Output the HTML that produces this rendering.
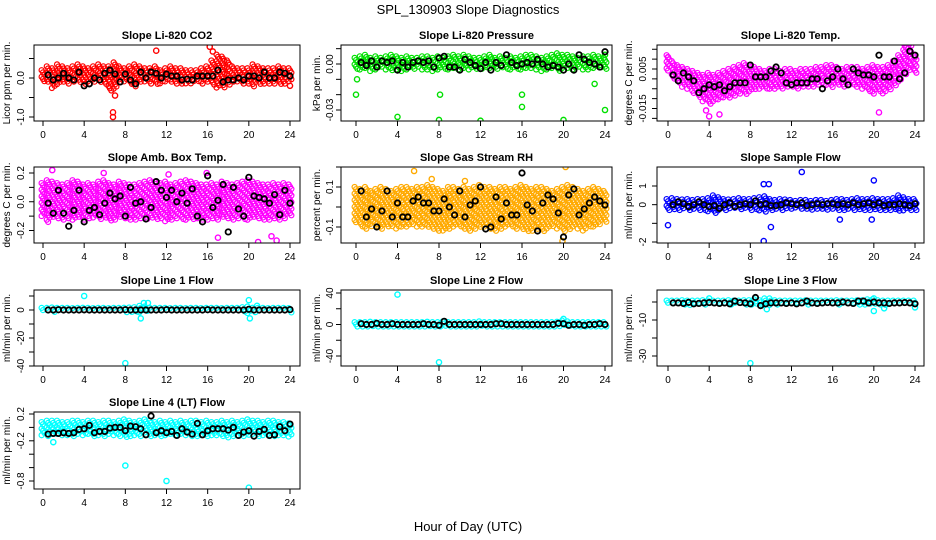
<!DOCTYPE html>
<html><head><meta charset="utf-8"><style>
body{margin:0;background:#fff}
svg{display:block;font-family:"Liberation Sans",sans-serif}
</style></head><body>
<svg id="chart" width="936" height="540" viewBox="0 0 936 540" xmlns="http://www.w3.org/2000/svg">
<rect width="936" height="540" fill="#fff"/>
<text x="468" y="14" text-anchor="middle" font-size="13">SPL_130903  Slope Diagnostics</text>
<text x="468" y="531" text-anchor="middle" font-size="13">Hour of Day (UTC)</text>
</svg>
<script>
const HOURS=[0,0.5,1,1.5,2,2.5,3,3.5,4,4.5,5,5.5,6,6.5,7,7.5,8,8.5,9,9.5,10,10.5,11,11.5,12,12.5,13,13.5,14,14.5,15,15.5,16,16.5,17,17.5,18,18.5,19,19.5,20,20.5,21,21.5,22,22.5,23,23.5,24];
const BLACK_HOURS=[0.5,1,1.5,2,2.5,3,3.5,4,4.5,5,5.5,6,6.5,7,7.5,8,8.5,9,9.5,10,10.5,11,11.5,12,12.5,13,13.5,14,14.5,15,15.5,16,16.5,17,17.5,18,18.5,19,19.5,20,20.5,21,21.5,22,22.5,23,23.5,24];
const TITLES=["Slope Li-820 CO2","Slope Li-820 Pressure","Slope Li-820 Temp.","Slope Amb. Box Temp.","Slope Gas Stream RH","Slope Sample Flow","Slope Line 1 Flow","Slope Line 2 Flow","Slope Line 3 Flow","Slope Line 4 (LT) Flow"];
const YTITLES=["Licor ppm per min.","kPa per min.","degrees C per min.","degrees C per min.","percent per min.","ml/min per min.","ml/min per min.","ml/min per min.","ml/min per min.","ml/min per min."];
const X_TICKS=[0,4,8,12,16,20,24];
const Y_TICKS=[[0.5,0,-0.5,-1],[0.01,0,-0.01,-0.02,-0.03],[0.015,0.01,0.005,0,-0.005,-0.01,-0.015,-0.02],[0.2,0.1,0,-0.1,-0.2],[0.2,0.1,0,-0.1,-0.2],[1,0,-1,-2],[10,0,-10,-20,-30,-40],[40,20,0,-20,-40],[0,-10,-20,-30],[0.2,0,-0.2,-0.4,-0.6,-0.8]];
const Y_LABELS=[["0.0","-1.0"],["0.00","-0.03"],["0.005","-0.015"],["0.2","0.0","-0.2"],["0.1","-0.1"],["1","0","-2"],["0","-20","-40"],["40","0","-40"],["-10","-30"],["0.2","-0.2","-0.8"]];
const Y_LABEL_VALUES=[[0,-1],[0,-0.03],[0.005,-0.015],[0.2,0,-0.2],[0.1,-0.1],[1,0,-2],[0,-20,-40],[40,0,-40],[-10,-30],[0.2,-0.2,-0.8]];
const HI=[
[0.2,0.3,0.25,0.35,0.3,0.25,0.3,0.35,0.3,0.25,0.3,0.35,0.3,0.3,0.4,0.3,0.25,0.3,0.35,0.3,0.25,0.25,0.3,0.2,0.25,0.3,0.25,0.25,0.2,0.2,0.2,0.25,0.3,0.45,0.6,0.55,0.45,0.3,0.25,0.25,0.25,0.35,0.3,0.25,0.25,0.25,0.3,0.25,0.25],
[0.004,0.005,0.006,0.004,0.005,0.004,0.005,0.006,0.005,0.004,0.005,0.004,0.004,0.005,0.005,0.004,0.005,0.004,0.005,0.006,0.005,0.006,0.005,0.004,0.004,0.005,0.006,0.004,0.005,0.004,0.005,0.004,0.005,0.006,0.006,0.005,0.004,0.005,0.006,0.007,0.006,0.006,0.005,0.004,0.005,0.005,0.006,0.005,0.004],
[0.012,0.009,0.007,0.006,0.005,0.004,0.003,0.002,0.003,0.002,0.003,0.004,0.005,0.006,0.007,0.008,0.007,0.006,0.005,0.004,0.005,0.005,0.004,0.005,0.005,0.004,0.005,0.005,0.005,0.006,0.006,0.007,0.007,0.006,0.005,0.006,0.006,0.006,0.005,0.006,0.007,0.006,0.006,0.007,0.009,0.012,0.018,0.019,0.012],
[0.13,0.15,0.14,0.13,0.12,0.13,0.15,0.14,0.12,0.13,0.12,0.14,0.15,0.13,0.12,0.14,0.13,0.12,0.12,0.13,0.14,0.15,0.14,0.13,0.14,0.12,0.13,0.14,0.15,0.14,0.13,0.12,0.12,0.13,0.12,0.14,0.13,0.12,0.13,0.14,0.15,0.14,0.13,0.12,0.12,0.13,0.12,0.13,0.12],
[0.1,0.09,0.1,0.08,0.09,0.1,0.09,0.08,0.09,0.1,0.1,0.09,0.1,0.1,0.11,0.1,0.09,0.08,0.1,0.1,0.09,0.1,0.09,0.1,0.11,0.1,0.1,0.09,0.1,0.1,0.09,0.1,0.11,0.1,0.09,0.1,0.1,0.09,0.08,0.09,0.1,0.11,0.1,0.09,0.08,0.09,0.1,0.09,0.08],
[0.3,0.35,0.3,0.28,0.3,0.25,0.3,0.3,0.35,0.5,0.4,0.3,0.28,0.3,0.35,0.3,0.3,0.35,0.4,0.45,0.3,0.25,0.3,0.28,0.25,0.2,0.25,0.25,0.2,0.25,0.25,0.2,0.25,0.3,0.3,0.25,0.3,0.35,0.3,0.3,0.35,0.3,0.3,0.3,0.35,0.5,0.4,0.3,0.3],
[1.5,1.5,1.8,1.5,1.5,1.5,1.4,1.5,1.6,1.5,1.4,1.5,1.5,1.4,1.5,1.5,1.6,1.8,2,3,2.5,1.6,1.5,1.5,1.5,1.4,1.5,1.5,1.4,1.5,1.5,1.4,1.5,1.5,1.5,1.4,1.5,1.5,1.5,2,2.5,1.6,1.5,1.5,1.4,1.5,1.5,1.5,1.4],
[3,3,3,3.5,3,3,3,3,3,3,3,3,3,3,3.5,3,3,4,3,3,3,3,3,3,4,3,3,3,3,3,3,3,3,3,3,3,3,3,3,3.5,5,4,3,3,3,3,3,3,3],
[0.8,0.8,0.8,1,0.8,0.8,0.8,1,0.8,0.8,0.8,0.8,1,0.8,0.8,1,1,1.5,1,2,2,1,0.8,0.8,0.8,0.8,0.8,1,0.8,0.8,0.8,0.8,0.8,1,0.8,0.8,0.8,1,1,1.5,1.5,1,0.8,0.8,0.8,0.8,0.8,0.8,0.8],
[0.08,0.1,0.1,0.1,0.08,0.08,0.1,0.1,0.08,0.1,0.1,0.08,0.1,0.1,0.08,0.1,0.12,0.1,0.08,0.1,0.12,0.1,0.08,0.1,0.08,0.1,0.08,0.1,0.08,0.1,0.1,0.08,0.1,0.08,0.08,0.1,0.08,0.1,0.08,0.1,0.12,0.1,0.1,0.08,0.1,0.1,0.08,0.08,0.06]
];
const LO=[
[-0.1,-0.15,-0.3,-0.2,-0.15,-0.15,-0.1,-0.15,-0.2,-0.15,-0.1,-0.15,-0.2,-0.35,-0.3,-0.15,-0.1,-0.2,-0.25,-0.15,-0.1,-0.15,-0.2,-0.15,-0.1,-0.15,-0.2,-0.15,-0.15,-0.15,-0.1,-0.15,-0.15,-0.2,-0.3,-0.25,-0.2,-0.15,-0.1,-0.15,-0.2,-0.25,-0.2,-0.15,-0.15,-0.15,-0.2,-0.15,-0.1],
[-0.004,-0.005,-0.004,-0.005,-0.004,-0.003,-0.004,-0.005,-0.005,-0.006,-0.004,-0.004,-0.003,-0.004,-0.004,-0.005,-0.004,-0.004,-0.005,-0.004,-0.004,-0.003,-0.004,-0.004,-0.004,-0.003,-0.004,-0.004,-0.003,-0.004,-0.005,-0.004,-0.004,-0.003,-0.004,-0.004,-0.005,-0.004,-0.004,-0.005,-0.005,-0.004,-0.004,-0.003,-0.004,-0.004,-0.004,-0.003,-0.004],
[0.004,0,-0.003,-0.005,-0.006,-0.008,-0.01,-0.012,-0.013,-0.012,-0.011,-0.01,-0.01,-0.009,-0.008,-0.008,-0.007,-0.006,-0.006,-0.005,-0.006,-0.006,-0.005,-0.005,-0.004,-0.005,-0.004,-0.004,-0.005,-0.004,-0.004,-0.004,-0.005,-0.004,-0.004,-0.004,-0.004,-0.005,-0.006,-0.007,-0.008,-0.007,-0.008,-0.006,-0.004,-0.002,0.002,0.004,0.002],
[-0.1,-0.15,-0.12,-0.13,-0.14,-0.12,-0.13,-0.12,-0.14,-0.13,-0.12,-0.13,-0.12,-0.14,-0.13,-0.12,-0.13,-0.14,-0.13,-0.12,-0.13,-0.12,-0.13,-0.12,-0.14,-0.13,-0.12,-0.13,-0.14,-0.13,-0.12,-0.14,-0.13,-0.12,-0.13,-0.12,-0.13,-0.14,-0.12,-0.13,-0.14,-0.12,-0.13,-0.14,-0.13,-0.12,-0.13,-0.12,-0.1],
[-0.08,-0.1,-0.11,-0.1,-0.1,-0.11,-0.1,-0.1,-0.11,-0.1,-0.1,-0.09,-0.1,-0.1,-0.1,-0.11,-0.12,-0.12,-0.11,-0.1,-0.1,-0.11,-0.12,-0.11,-0.1,-0.1,-0.11,-0.12,-0.11,-0.1,-0.1,-0.11,-0.11,-0.12,-0.12,-0.11,-0.12,-0.11,-0.1,-0.11,-0.12,-0.11,-0.1,-0.11,-0.12,-0.1,-0.1,-0.09,-0.08],
[-0.3,-0.35,-0.3,-0.25,-0.3,-0.25,-0.3,-0.35,-0.4,-0.45,-0.35,-0.3,-0.3,-0.25,-0.3,-0.25,-0.3,-0.35,-0.4,-0.4,-0.35,-0.3,-0.3,-0.3,-0.25,-0.2,-0.25,-0.25,-0.3,-0.25,-0.25,-0.3,-0.3,-0.35,-0.3,-0.3,-0.3,-0.3,-0.3,-0.3,-0.35,-0.4,-0.3,-0.3,-0.35,-0.4,-0.35,-0.3,-0.3],
[-1.5,-1.5,-1.5,-1.6,-1.5,-1.5,-1.4,-1.5,-1.5,-1.5,-1.5,-1.4,-1.5,-1.5,-1.5,-1.4,-1.8,-2,-2,-2.5,-1.8,-1.5,-1.5,-1.4,-1.5,-1.5,-1.5,-1.5,-1.4,-1.5,-1.5,-1.5,-1.4,-1.5,-1.5,-1.5,-1.5,-1.4,-1.5,-1.6,-2.5,-2,-1.5,-1.5,-1.5,-1.4,-1.5,-1.5,-2],
[-3,-3.5,-3,-3,-3,-3,-3,-3,-3,-3,-3,-3,-3,-3,-3,-3,-4,-4,-3,-3,-3,-3,-3,-3,-3,-3,-3,-3,-3,-3,-3,-3,-3,-3,-3,-3,-3,-3,-3,-3,-3,-3.5,-3,-3,-3,-3,-3,-3,-4],
[-1.5,-1.6,-1.5,-1.5,-1.8,-1.6,-1.5,-1.6,-1.5,-1.5,-1.6,-1.5,-1.5,-1.6,-1.5,-1.6,-2,-2,-2.5,-2.5,-2,-1.8,-1.6,-1.5,-1.6,-1.5,-1.6,-1.5,-1.5,-1.6,-1.5,-1.6,-1.5,-1.5,-1.6,-1.5,-1.5,-1.6,-1.5,-1.5,-2,-2,-1.8,-1.5,-1.6,-1.5,-1.5,-1.6,-1.6],
[-0.12,-0.13,-0.12,-0.12,-0.13,-0.12,-0.13,-0.12,-0.12,-0.12,-0.13,-0.12,-0.14,-0.12,-0.12,-0.13,-0.15,-0.15,-0.14,-0.13,-0.12,-0.13,-0.14,-0.13,-0.13,-0.12,-0.13,-0.12,-0.13,-0.14,-0.15,-0.13,-0.14,-0.13,-0.12,-0.13,-0.15,-0.13,-0.12,-0.13,-0.14,-0.12,-0.13,-0.12,-0.14,-0.13,-0.12,-0.13,-0.14]
];
const BLACK=[
[0.08,-0.05,0,0.12,0,-0.05,0.15,-0.2,-0.15,0,-0.05,0.12,0.2,0.1,-0.1,0.1,-0.05,-0.15,0.15,0,0.15,0.12,0,0.1,0.05,0.05,-0.05,-0.03,-0.05,0.05,0.05,0.05,0.05,0.2,-0.1,-0.05,-0.05,0,-0.05,0.05,0.05,0,0.15,0,0,0.15,0.12,0.05],
[0.001,-0.001,0.002,-0.002,0.002,0.001,0.002,-0.004,0.001,-0.002,0.001,0.002,0.001,0.002,-0.002,0.004,0.005,-0.002,-0.002,-0.004,0.003,0.001,-0.001,-0.003,0.001,-0.004,0.001,-0.001,0.006,0.001,-0.001,0,0.001,0,0.003,0,-0.002,-0.001,-0.002,-0.004,0,-0.004,0.006,0.003,0.001,0,-0.002,0.008],
[0.002,-0.001,0.003,0.001,-0.001,-0.007,-0.005,-0.003,-0.004,-0.003,-0.006,-0.004,-0.002,-0.002,-0.002,0.007,0.001,0.001,0.001,0.004,0.006,0.003,-0.002,-0.003,-0.002,-0.002,-0.002,0,0,-0.005,-0.001,0.001,0.005,0,-0.003,0.005,0.003,0.002,0.002,0.001,0.012,0.001,0.001,0.009,0,0.003,0.014,0.012],
[-0.01,-0.08,0.08,-0.08,-0.17,-0.06,0.08,-0.14,-0.06,-0.04,-0.09,-0.01,0.06,0.02,0.04,-0.1,0.1,-0.01,0,-0.12,-0.04,0.14,0.08,0.03,0.08,0,0.06,-0.01,0.09,-0.1,-0.14,0.18,-0.04,0.01,0.12,-0.21,0.1,-0.05,-0.1,0.17,0.04,0.03,0.02,-0.01,0.05,-0.09,0.08,-0.01],
[0.08,-0.05,-0.01,-0.1,-0.02,0.08,-0.05,0.02,-0.05,-0.05,0.03,0.05,0.02,0.02,-0.02,-0.02,0.04,0,-0.04,0.08,-0.05,0.01,0.03,0.1,-0.11,-0.1,0.05,-0.06,0.02,-0.04,-0.04,0.17,0.01,-0.02,-0.12,0.02,0.06,0.04,-0.03,-0.15,0.06,0.09,-0.04,-0.01,0.02,0.05,0.03,0.01],
[0,0.15,0.05,-0.1,0,0.15,0,-0.1,-0.05,-0.2,0,0.1,-0.1,0,0.05,0,0.2,0,0.05,-0.05,-0.05,0,0.1,0.05,0,0.1,-0.05,0,0.05,0,0.05,0.05,0,0.05,0,0.1,0,0.05,0.1,0,0.1,-0.05,0,0,0.05,0,-0.05,0.05],
[0,0,0.2,0,0,0,0,0.1,0,0,0,0,0,0,0,0.2,0,0,0,0,0,0,0,0.2,0,0,0,0,0,0,0,0.2,0,0,0,0,0,0,0,0.5,0,0,0,0,0,0,0,0.3],
[1,0,0,1.5,0,0,1,0,0,0,0,0,1,0,0,-1,4,0,0,0,0,0,0,0,0,0,1,1,0,0,0,0,0,0,0,0,0,0,1.5,1,-1,0,0,-1,0,0,1,0],
[-0.5,-0.5,-0.8,-0.2,-1,-0.8,-0.5,-0.3,-0.5,-0.8,-0.5,-1,0.5,-0.3,-0.5,-1,2.5,-2,-1,-0.5,-0.5,-0.5,-0.8,-0.5,-1,-0.5,0.5,-0.5,-0.8,-0.5,-0.3,-0.5,-0.5,0,-0.5,-0.8,0.5,0.5,-0.5,0,-0.5,-0.5,-0.8,-0.5,-0.5,-0.3,-0.5,-1],
[-0.1,-0.09,-0.09,-0.08,-0.09,-0.08,-0.03,-0.02,0.03,-0.08,-0.06,-0.06,-0.01,0,0,-0.05,0.02,0.01,-0.02,-0.11,0.17,-0.08,-0.05,-0.08,-0.06,-0.12,-0.02,-0.07,-0.1,0.06,-0.11,-0.05,-0.02,-0.02,-0.02,-0.04,0,-0.12,-0.07,-0.05,-0.13,-0.06,-0.03,-0.12,-0.11,0.01,-0.05,0.05]
];
const OUT_X=[[6.8,6.8,7,11,16.2,16.5,24],[0,0.1,4,8,8.1,12,16,16,20,23,24,24],[0,3.7,4,5,20.5,22.6],[0.9,5.9,12.2,15.9,17,20.9,22.2,22.7],[0.9,5.6,7.3,10.5,19.9,20.2],[0,9.3,9.8,9.3,10,16.7,19.8,20,13],[4,8,9.5,9.8,10.2,20,20.1,20.8],[4,8,20],[4,8,9.6,20,20,21,24],[1,8,12,20]];
const OUT_Y=[[-0.88,-1.0,-0.45,0.7,0.8,0.68,-0.2],[-0.02,-0.01,-0.0345,-0.0365,-0.02,-0.037,-0.02,-0.028,-0.0365,-0.013,-0.03,0.006],[0.011,-0.016,-0.019,-0.018,-0.017,0.02],[0.22,0.2,0.19,0.2,-0.25,-0.28,-0.24,-0.27],[-0.22,0.18,0.14,0.13,-0.17,0.2],[-1.1,1.1,1.1,-1.95,-1.2,-0.8,-0.8,1.3,1.75],[10,-38,-6,5,5,7,-6,3],[38,-48,7],[2,-34,-4,-5,2,-3.5,-3],[-0.22,-0.57,-0.8,-0.9]];
const COLORS=["#ff0000","#00e000","#ff00ff","#ff00ff","#ffaa00","#0000ff","#00ffff","#00ffff","#00ffff","#00ffff"];

// layout (not data)
const COLS=[{l:34,r:300,x0:43,x24:290,tx:10,lx:24},{l:341,r:612,x0:356,x24:605,tx:320,lx:333},{l:657,r:924,x0:668,x24:915,tx:632,lx:646}];
const ROWS=[{t:45,b:121},{t:167,b:243},{t:290,b:366},{t:412,b:489}];
const YMAP=[[0,78,-1,117],[0,64,-0.03,110],[0.005,69,-0.015,108.5],[0.2,173,-0.2,230.5],[0.1,187,-0.1,227],[1,186,-2,242],[0,310,-40,366],[40,293,-40,356],[-10,320,-30,356],[0.2,414,-0.8,481]];

const svg=document.getElementById('chart');
const NS='http://www.w3.org/2000/svg';
function mk(tag,attrs,parent){const e=document.createElementNS(NS,tag);for(const k in attrs)e.setAttribute(k,attrs[k]);parent.appendChild(e);return e;}

for(let p=0;p<10;p++){
  const col=COLS[p%3], row=ROWS[Math.floor(p/3)];
  const sx=h=>col.x0+(h/24)*(col.x24-col.x0);
  const ym=YMAP[p];
  const sy=v=>ym[1]+(v-ym[0])*(ym[3]-ym[1])/(ym[2]-ym[0]);
  const g=mk('g',{},svg);
  
  
  const clipId='clip'+p;
  const cp=mk('clipPath',{id:clipId},g);
  mk('rect',{x:col.l,y:row.t,width:col.r-col.l,height:row.b-row.t},cp);
  const t=mk('text',{x:(col.l+col.r)/2,y:row.t-6,'text-anchor':'middle','font-size':'11','font-weight':'bold'},g);
  t.textContent=TITLES[p];
  
  
  const yt=mk('text',{transform:`translate(${col.tx},${(row.t+row.b)/2}) rotate(-90)`,'text-anchor':'middle','font-size':'10'},g);
  yt.textContent=YTITLES[p];
  
  
  const marks=mk('g',{'clip-path':`url(#${clipId})`,fill:'none'},g);
  
  
  for(let i=0;i<HOURS.length;i++){
    const x=sx(HOURS[i]);const y1=sy(HI[p][i]),y2=sy(LO[p][i]);
    const top=Math.min(y1,y2),bot=Math.max(y1,y2);
    let k=0;
    for(let y=top;y<=bot+0.01;y+=2.2,k++){
      const c=mk('circle',{cx:x+(k%3-1)*1.4,cy:y,r:2.5,stroke:COLORS[p],'stroke-width':1.2},marks);
      
      
    }
  }
  for(let i=0;i<OUT_X[p].length;i++){
    const c=mk('circle',{cx:sx(OUT_X[p][i]),cy:sy(OUT_Y[p][i]),r:2.6,stroke:COLORS[p],'stroke-width':1.4},marks);
    
    
  }
  for(let i=0;i<BLACK_HOURS.length;i++){
    const c=mk('circle',{cx:sx(BLACK_HOURS[i]),cy:sy(BLACK[p][i]),r:2.7,stroke:'#000','stroke-width':1.8},marks);
    
    
  }
  const box=mk('rect',{x:col.l,y:row.t,width:col.r-col.l,height:row.b-row.t,fill:'none',stroke:'#000','stroke-width':1},g);
  
  
  for(const h of X_TICKS){
    const x=sx(h);
    mk('line',{x1:x,x2:x,y1:row.b,y2:row.b+5,stroke:'#000'},g);
    const tl=mk('text',{x:x,y:row.b+17,'text-anchor':'middle','font-size':'10'},g);
    tl.textContent=h;
    
    
  }
  for(const v of Y_TICKS[p]){
    const y=sy(v); if(y<row.t-1||y>row.b+1) continue;
    mk('line',{x1:col.l-5,x2:col.l,y1:y,y2:y,stroke:'#000'},g);
  }
  for(let k=0;k<Y_LABELS[p].length;k++){
    const y=sy(Y_LABEL_VALUES[p][k]);
    const tl=mk('text',{transform:`translate(${col.lx},${y}) rotate(-90)`,'text-anchor':'middle','font-size':'10'},g);
    tl.textContent=Y_LABELS[p][k];
    
    
  }
}
</script>
</body></html>
